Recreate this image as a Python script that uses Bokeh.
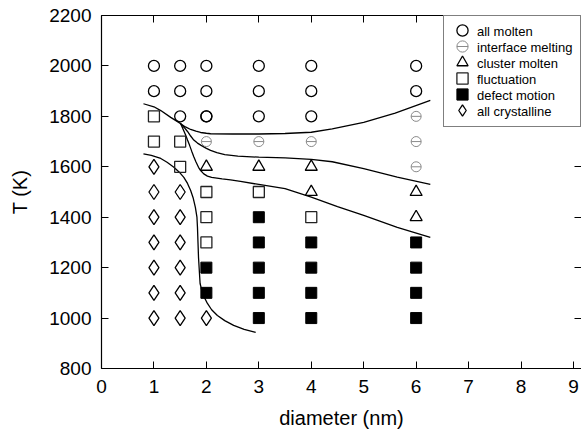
from bokeh.plotting import figure
from bokeh.models import Range1d, LinearAxis, FixedTicker, Legend, LegendItem
from bokeh.embed import file_html
from bokeh.resources import INLINE

# ---- data ----
x_ticks = [0, 1, 2, 3, 4, 5, 6, 7, 8, 9]
y_ticks = [800, 1000, 1200, 1400, 1600, 1800, 2000, 2200]

molten_d = [1, 1, 1.5, 1.5, 1.5, 2, 2, 2, 2, 3, 3, 3, 4, 4, 4, 6, 6]
molten_T = [2000, 1900, 2000, 1900, 1800, 2000, 1900, 1800, 1800, 2000, 1900, 1800, 2000, 1900, 1800, 2000, 1900]

interface_d = [2, 3, 4, 6, 6, 6]
interface_T = [1700, 1700, 1700, 1800, 1700, 1600]

cluster_d = [2, 3, 4, 4, 6, 6]
cluster_T = [1600, 1600, 1600, 1500, 1500, 1400]

fluct_d = [1, 1, 1.5, 1.5, 2, 2, 2, 3, 4]
fluct_T = [1800, 1700, 1700, 1600, 1500, 1400, 1300, 1500, 1400]

defect_d = [2, 2, 3, 3, 3, 3, 3, 4, 4, 4, 4, 6, 6, 6, 6]
defect_T = [1200, 1100, 1400, 1300, 1200, 1100, 1000, 1300, 1200, 1100, 1000, 1300, 1200, 1100, 1000]

cryst_d = [1, 1, 1, 1, 1, 1, 1, 1.5, 1.5, 1.5, 1.5, 1.5, 1.5, 2]
cryst_T = [1600, 1500, 1400, 1300, 1200, 1100, 1000, 1500, 1400, 1300, 1200, 1100, 1000, 1000]

legend_labels = ["all molten", "interface melting", "cluster molten",
                 "fluctuation", "defect motion", "all crystalline"]

# boundary curves
c1_d = [0.80, 1.0, 1.13, 1.32, 1.51, 1.6, 1.7, 1.8, 1.89, 2.0, 2.08, 2.5, 3.0, 3.5, 4.0, 4.4, 5.0, 5.6, 6.27]
c1_T = [1850, 1838, 1823, 1796, 1771, 1758, 1748, 1741, 1736, 1733, 1731, 1730, 1730, 1732, 1737, 1750, 1776, 1813, 1863]

c2_d = [1.51, 1.58, 1.64, 1.70, 1.76, 1.83, 1.9, 2.0, 2.08, 2.2, 2.35, 2.6, 3.0, 3.5, 4.0, 4.4, 5.0, 5.64, 6.27]
c2_T = [1771, 1755, 1740, 1722, 1706, 1694, 1685, 1673, 1665, 1656, 1648, 1642, 1638, 1635, 1629, 1620, 1593, 1559, 1530]

c3_d = [1.51, 1.55, 1.60, 1.64, 1.68, 1.72, 1.76, 1.80, 1.85, 1.89, 1.95, 2.02, 2.1, 2.3, 2.46, 2.65, 3.0, 3.5, 4.0, 4.5, 5.0, 5.64, 6.27]
c3_T = [1771, 1752, 1728, 1706, 1685, 1662, 1640, 1620, 1598, 1585, 1572, 1563, 1558, 1552, 1548, 1542, 1530, 1513, 1480, 1442, 1407, 1360, 1320]

c4_d = [0.80, 0.95, 1.13, 1.25, 1.38, 1.50, 1.57, 1.64, 1.70, 1.75, 1.79, 1.82, 1.83, 1.84, 1.85, 1.88, 1.93, 2.02, 2.10, 2.21, 2.35, 2.52, 2.72, 2.94]
c4_T = [1651, 1645, 1633, 1618, 1598, 1575, 1558, 1534, 1506, 1475, 1439, 1400, 1360, 1300, 1240, 1137, 1095, 1058, 1033, 1010, 990, 971, 955, 943]

FONT = "Liberation Sans"

p = figure(width=581, height=431, output_backend="svg", toolbar_location=None,
           x_range=Range1d(0, 9.153), y_range=Range1d(800, 2200),
           min_border_left=101, min_border_right=0, min_border_top=15,
           min_border_bottom=63, x_axis_label="diameter (nm)", y_axis_label="T (K)")
p.grid.visible = False
p.outline_line_color = None
p.background_fill_color = "white"
p.border_fill_color = "white"

for ax in [p.xaxis[0], p.yaxis[0]]:
    ax.major_tick_in = 7
    ax.major_tick_out = 0
    ax.minor_tick_line_color = None
    ax.axis_line_color = "black"
    ax.axis_line_width = 1.2
    ax.major_tick_line_width = 1.0
    ax.major_label_text_font = FONT
    ax.major_label_text_font_size = "19px"
    ax.major_label_text_color = "black"
    ax.axis_label_text_font = FONT
    ax.axis_label_text_font_size = "20px"
    ax.axis_label_text_font_style = "normal"
    ax.axis_label_text_color = "black"

p.xaxis[0].ticker = FixedTicker(ticks=x_ticks)
p.yaxis[0].ticker = FixedTicker(ticks=y_ticks)
p.xaxis[0].major_label_standoff = 11
p.xaxis[0].axis_label_standoff = 11
p.yaxis[0].major_label_standoff = 10
p.yaxis[0].axis_label_standoff = 15

top = LinearAxis(ticker=FixedTicker(ticks=x_ticks), major_tick_in=7, major_tick_out=0,
                 minor_tick_line_color=None, major_label_text_font_size="0px",
                 major_label_standoff=0, axis_line_width=1.2)
top.major_label_overrides = {t: "" for t in x_ticks}
p.add_layout(top, "above")
right = LinearAxis(ticker=FixedTicker(ticks=y_ticks), major_tick_in=7, major_tick_out=0,
                   minor_tick_line_color=None, major_label_text_font_size="0px",
                   major_label_standoff=0, axis_line_color=None)
right.major_label_overrides = {t: "" for t in y_ticks}
p.add_layout(right, "right")

# curves
for cx, cy in [(c1_d, c1_T), (c2_d, c2_T), (c3_d, c3_T), (c4_d, c4_T)]:
    p.line(cx, cy, line_color="black", line_width=1.3)

LW = 1.3
r_molten = p.scatter(molten_d, molten_T, marker="circle", size=11, fill_color="white",
                     fill_alpha=0, line_color="black", line_width=LW)
r_int_c = p.scatter(interface_d, interface_T, marker="circle", size=10, fill_color="white",
                    fill_alpha=0, line_color="#8a8a8a", line_width=1.0)
r_int_d = p.scatter(interface_d, interface_T, marker="dash", size=10,
                    line_color="#8a8a8a", line_width=1.0)
r_cluster = p.scatter(cluster_d, cluster_T, marker="triangle", size=12, fill_color="white",
                      fill_alpha=0, line_color="black", line_width=LW)
r_fluct = p.scatter(fluct_d, fluct_T, marker="square", size=11, fill_color="white",
                    fill_alpha=0, line_color="#222222", line_width=LW)
r_defect = p.scatter(defect_d, defect_T, marker="square", size=11, fill_color="black",
                     line_color="black", line_width=1.0)
r_cryst = p.scatter(cryst_d, cryst_T, marker="diamond", size=15, fill_color="white",
                    fill_alpha=0, line_color="black", line_width=LW)

# invisible renderer used only for the legend box rows
dummy = p.scatter([], [], marker="circle", size=1, fill_alpha=0, line_alpha=0)

ROW = 16
PAD = 7
main_legend = Legend(items=[LegendItem(label=lab, renderers=[dummy]) for lab in legend_labels],
                     location="top_right")
main_legend.margin = 0
main_legend.padding = PAD
main_legend.glyph_width = 20
main_legend.glyph_height = ROW
main_legend.label_height = ROW
main_legend.spacing = 0
main_legend.label_standoff = 6
main_legend.label_width = 96
main_legend.label_text_font = FONT
main_legend.label_text_font_size = "13px"
main_legend.label_text_color = "black"
main_legend.label_text_baseline = "middle"
main_legend.border_line_color = "black"
main_legend.border_line_width = 1.2
main_legend.background_fill_color = "white"
main_legend.background_fill_alpha = 1.0
p.add_layout(main_legend, "center")

# legend symbols drawn at full size (one small transparent legend per row)
FRAME_W = 480
FRAME_H = 353
LEG_W = 96 + 6 + 20 + 2 * PAD
glyph_cx = FRAME_W - LEG_W + PAD + 10          # centre of glyph column, frame px
BOX = 28
sym_groups = [[r_molten], [r_int_c, r_int_d], [r_cluster], [r_fluct], [r_defect], [r_cryst]]
for k, rs in enumerate(sym_groups):
    cy_top = PAD + ROW * k + ROW / 2             # from frame top
    loc = (glyph_cx - BOX / 2, FRAME_H - cy_top - BOX / 2)
    lg = Legend(items=[LegendItem(label=" ", renderers=rs)], location=loc)
    lg.margin = 0
    lg.padding = 0
    lg.glyph_width = BOX
    lg.glyph_height = BOX
    lg.label_height = BOX
    lg.label_width = 0
    lg.label_standoff = 0
    lg.label_text_font_size = "1px"
    lg.border_line_color = None
    lg.background_fill_alpha = 0
    p.add_layout(lg, "center")

open("out.html", "w").write(file_html(p, INLINE))
